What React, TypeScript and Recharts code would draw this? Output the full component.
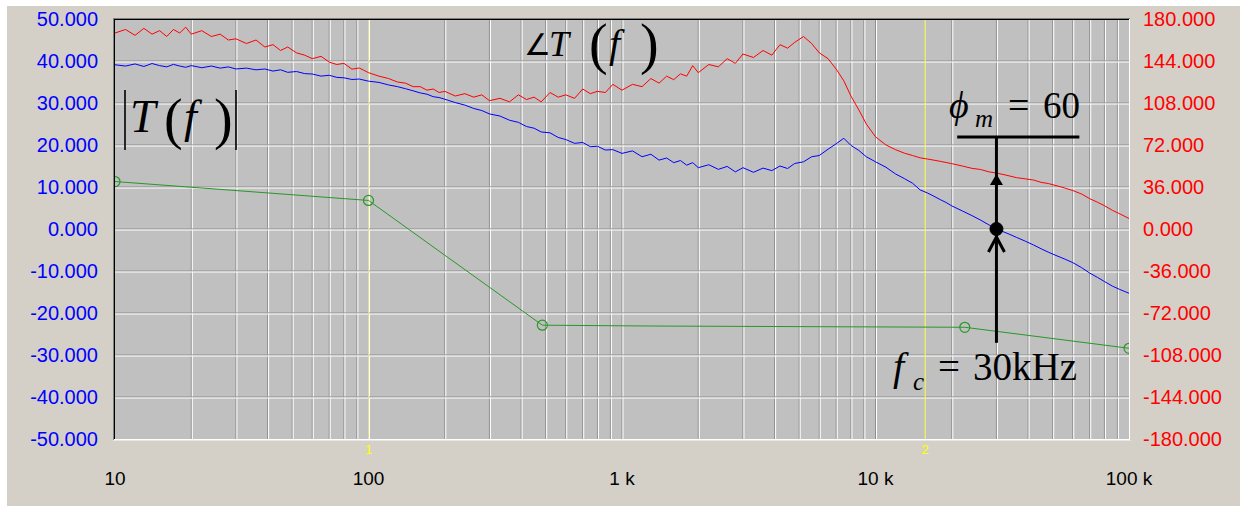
import React from "react";
import { LineChart, Line, XAxis, YAxis, CartesianGrid, ReferenceLine, ReferenceDot } from "recharts";

// measured loop gain, sampled from the analyser trace
const freqHz = [
  10, 11, 12, 13, 14, 15, 16, 17, 18, 19, 20, 22, 24, 26, 28, 30, 33, 36, 39, 42, 45, 48, 52, 56, 60, 65, 70, 75, 80, 86, 92,
  100, 110, 120, 130, 140, 150, 160, 170, 180, 190, 200, 220, 240, 260, 280, 300, 330, 360, 390, 420, 450, 480, 520, 560, 600, 650, 700, 750, 800, 860, 920,
  1000, 1100, 1200, 1300, 1400, 1500, 1600, 1700, 1800, 1900, 2000, 2200, 2400, 2600, 2800, 3000, 3300, 3600, 3900, 4200, 4500, 4800, 5200, 5600, 6000, 6500, 7000, 7500, 8000, 8600, 9200,
  10000, 11000, 12000, 13000, 14000, 15000, 16000, 17000, 18000, 19000, 20000, 22000, 24000, 26000, 28000, 30000, 33000, 36000, 39000, 42000, 45000, 48000, 52000, 56000, 60000, 65000, 70000, 75000, 80000, 86000, 92000,
  100000,
];

const magDb = [
  39.1, 38.8, 39.3, 38.7, 39.4, 38.9, 38.6, 39.2, 38.8, 38.5, 38.9, 38.4, 38.8, 38.3, 38.6, 38.1, 38.3, 37.9, 38.1, 37.6, 37.9, 37.3, 37.5, 37.0, 36.9, 36.4, 36.6, 36.1, 36.0, 35.6, 35.7,
  35.2, 34.9, 34.3, 33.9, 33.4, 32.9, 32.4, 32.1, 31.5, 31.3, 30.9, 30.1, 29.5, 28.7, 28.2, 27.4, 26.9, 25.9, 25.4, 24.4, 24.0, 23.1, 22.9, 21.8, 21.3, 20.4, 20.6, 19.6, 19.7, 18.8, 18.9,
  18.0, 18.6, 17.2, 17.8, 16.4, 16.9, 15.8, 16.3, 15.2, 15.8, 14.6, 15.3, 14.2, 14.9, 13.6, 14.6, 13.5, 14.5, 13.9, 15.0, 14.4, 15.6, 16.0, 17.2, 17.5, 19.0, 20.3, 21.6, 19.9, 18.7, 17.2,
  16.0, 14.7, 13.1, 12.0, 10.9, 9.3, 8.6, 7.8, 7.0, 6.3, 5.5, 4.3, 3.2, 2.1, 1.0, 0.0, -1.0, -2.0, -2.9, -3.8, -4.7, -5.5, -6.4, -7.2, -8.0, -9.2, -10.5, -11.5, -12.5, -13.6, -14.4,
  -15.3,
];

const phaseDeg = [
  168, 171, 166, 172, 167, 170, 165, 171, 168, 173, 167, 170, 165, 167, 162, 163, 159, 162, 156, 158, 153, 156, 151, 149, 146, 148, 143, 141, 142, 137, 138,
  134, 131, 129, 126, 125, 122, 122, 119, 120, 117, 118, 114, 116, 113, 115, 110, 112, 109, 115, 111, 113, 109, 117, 113, 115, 112, 120, 116, 118, 117, 124,
  119, 124, 122, 129, 125, 131, 128, 133, 131, 140, 134, 141, 139, 146, 142, 150, 147, 153, 149, 158, 155, 160, 165, 159, 151, 146, 137, 127, 114, 102, 90,
  79, 72, 68, 65, 63, 61, 60, 59, 58, 57, 56, 54, 52, 51, 49, 48, 46, 44, 43, 42, 40, 39, 37, 35, 33, 30, 26, 23, 20, 16, 13,
  9,
];

// straight-line asymptote (green)
const asymFreq = [10, 100, 485, 1300, 22500, 100000];
const asymDb = [11.3, 6.8, -22.9, -23.1, -23.4, -28.4];
const asymMarked = [true, true, true, false, true, true];

const xTicks = [10, 100, 1000, 10000, 100000];
const xTickLabels = ["10", "100", "1 k", "10 k", "100 k"];
const magTicks = [-50, -40, -30, -20, -10, 0, 10, 20, 30, 40, 50];
const phaseTicks = [-180, -144, -108, -72, -36, 0, 36, 72, 108, 144, 180];
const cursorFreq = [100, 15700];
const cursorLabels = ["1", "2"];
const cursorColors = ["#dede90", "#ffff40"];
const crossFreq = 30000;

const data = freqHz.map((f, i) => ({ f, mag: magDb[i], phase: phaseDeg[i] }));
const asymData = asymFreq.map((f, i) => ({ f, v: asymDb[i], marked: asymMarked[i] }));

const gridFreqs: number[] = [];
[10, 100, 1000, 10000].forEach((d) => {
  for (let k = 1; k <= 9; k++) if (d * k > 10) gridFreqs.push(d * k);
});
const gridMags = magTicks.filter((v) => v > -50 && v < 50);

const GridPair = (p: any) => {
  const { x1, y1, x2, y2 } = p;
  const vert = Math.abs(x1 - x2) < 0.01;
  return (
    <g>
      <line x1={x1} y1={y1} x2={x2} y2={y2} stroke="#8e8e8e" strokeWidth={1} />
      <line
        x1={vert ? x1 + 1 : x1}
        y1={vert ? y1 : y1 + 1}
        x2={vert ? x2 + 1 : x2}
        y2={vert ? y2 : y2 + 1}
        stroke="#ffffff"
        strokeWidth={1}
      />
    </g>
  );
};

const asymDot = (p: any) => {
  const { cx, cy, payload, index } = p;
  if (!payload.marked) return <g key={"d" + index} />;
  return <circle key={"d" + index} cx={cx} cy={cy} r={5} fill="none" stroke="#2a962a" strokeWidth={1.2} />;
};

const UpTriangle = (p: any) => (
  <path d={`M${p.cx},${p.cy} L${p.cx - 6.5},${p.cy + 11} L${p.cx + 6.5},${p.cy + 11} Z`} fill="#000" />
);
const Chevron = (p: any) => (
  <path
    d={`M${p.cx - 8},${p.cy + 15} L${p.cx},${p.cy} L${p.cx + 8},${p.cy + 15}`}
    fill="none"
    stroke="#000"
    strokeWidth={3}
  />
);

const serif = "'Liberation Serif', 'Times New Roman', serif";

export default function App() {
  return (
    <div style={{ position: "absolute", left: 0, top: 0, width: 1243, height: 506, background: "#fff" }}>
      <div style={{ position: "absolute", left: 7, top: 6, width: 1233, height: 500, background: "#d4d0c8" }}>
        <LineChart
          width={1233}
          height={500}
          data={data}
          margin={{ top: 13, right: 11, bottom: 27, left: 8 }}
          style={{ fontFamily: "'Liberation Sans', Arial, sans-serif" }}
        >
          <CartesianGrid fill="#c0c0c0" horizontal={false} vertical={false} yAxisId="mag" />
          <XAxis
            dataKey="f"
            type="number"
            scale="log"
            domain={[10, 100000]}
            ticks={xTicks}
            tickFormatter={(v: number) => xTickLabels[xTicks.indexOf(v)] ?? ""}
            axisLine={false}
            tickLine={false}
            tickSize={31}
            tickMargin={2}
            height={40}
            allowDataOverflow
            interval={0}
            tick={{ fill: "#000", fontSize: 19 }}
          />
          <YAxis
            yAxisId="mag"
            orientation="left"
            domain={[-50, 50]}
            ticks={magTicks}
            tickFormatter={(v: number) => v.toFixed(3)}
            axisLine={false}
            tickLine={false}
            tickSize={15}
            tickMargin={2}
            width={100}
            interval={0}
            allowDataOverflow
            tick={{ fill: "#0000ff", fontSize: 20 }}
          />
          <YAxis
            yAxisId="ph"
            orientation="right"
            domain={[-180, 180]}
            ticks={phaseTicks}
            tickFormatter={(v: number) => v.toFixed(3)}
            axisLine={false}
            tickLine={false}
            tickSize={12}
            tickMargin={2}
            width={100}
            interval={0}
            allowDataOverflow
            tick={{ fill: "#ff0000", fontSize: 20 }}
          />

          {gridFreqs.map((f) => (
            <ReferenceLine key={"gv" + f} x={f} yAxisId="mag" shape={GridPair} />
          ))}
          {gridMags.map((v) => (
            <ReferenceLine key={"gh" + v} y={v} yAxisId="mag" shape={GridPair} />
          ))}
          {cursorFreq.map((f, i) => (
            <ReferenceLine
              key={"c" + f}
              x={f}
              yAxisId="mag"
              stroke={cursorColors[i]}
              strokeWidth={1}
              label={{ value: cursorLabels[i], position: "bottom", fill: "#ffff00", fontSize: 13, offset: 6 }}
            />
          ))}

          <Line
            yAxisId="ph"
            dataKey="phase"
            type="linear"
            stroke="#ff0000"
            strokeWidth={1}
            dot={false}
            isAnimationActive={false}
          />
          <Line
            yAxisId="mag"
            dataKey="mag"
            type="linear"
            stroke="#0000ff"
            strokeWidth={1}
            dot={false}
            isAnimationActive={false}
          />
          <Line
            yAxisId="mag"
            data={asymData}
            dataKey="v"
            type="linear"
            stroke="#2a962a"
            strokeWidth={1}
            dot={asymDot}
            isAnimationActive={false}
          />

          <ReferenceLine
            yAxisId="mag"
            segment={[
              { x: 21000, y: 21.9 },
              { x: 63700, y: 21.9 },
            ]}
            stroke="#000"
            strokeWidth={3}
          />
          <ReferenceLine
            yAxisId="mag"
            segment={[
              { x: crossFreq, y: 21.9 },
              { x: crossFreq, y: -27.1 },
            ]}
            stroke="#000"
            strokeWidth={3}
          />
          <ReferenceDot yAxisId="mag" x={crossFreq} y={13.1} shape={UpTriangle} />
          <ReferenceDot yAxisId="mag" x={crossFreq} y={-1.9} shape={Chevron} />
          <ReferenceDot yAxisId="mag" x={crossFreq} y={0} r={6.5} fill="#000" stroke="#000" />
        </LineChart>
      </div>

      <svg
        width={1243}
        height={506}
        style={{ position: "absolute", left: 0, top: 0, pointerEvents: "none" }}
      >
        {/* sunken frame */}
        <line x1={113} y1={18.5} x2={1130} y2={18.5} stroke="#808080" />
        <line x1={114} y1={19.5} x2={1129} y2={19.5} stroke="#000" />
        <line x1={113.5} y1={18} x2={113.5} y2={440} stroke="#808080" />
        <line x1={114.5} y1={19} x2={114.5} y2={439} stroke="#000" />
        <line x1={114} y1={439.5} x2={1130} y2={439.5} stroke="#ffffff" />
        <line x1={113} y1={440.5} x2={1131} y2={440.5} stroke="#e6e6e6" />
        <line x1={1129.5} y1={19} x2={1129.5} y2={440} stroke="#ffffff" />

        {/* |T(f)| */}
        <line x1={125} y1={90} x2={125} y2={150} stroke="#000" strokeWidth={1.6} />
        <line x1={236} y1={90} x2={236} y2={150} stroke="#000" strokeWidth={1.6} />
        <g fontFamily={serif} fill="#000">
          <text x={130} y={132} fontSize={46} fontStyle="italic">T</text>
          <text x={164} y={138} fontSize={56}>(</text>
          <text x={184} y={132} fontSize={46} fontStyle="italic">f</text>
          <text x={214} y={138} fontSize={56}>)</text>

          {/* ∠T(f) */}
          <text x={524} y={55} fontSize={30}>∠</text>
          <text x={549} y={56} fontSize={36} fontStyle="italic">T</text>
          <text x={589} y={63} fontSize={56}>(</text>
          <text x={609} y={57} fontSize={40} fontStyle="italic">f</text>
          <text x={640} y={63} fontSize={56}>)</text>

          {/* ϕm = 60 */}
          <text x={949} y={118} fontSize={38} fontStyle="italic">ϕ</text>
          <text x={975} y={127} fontSize={25} fontStyle="italic">m</text>
          <text x={1008} y={118} fontSize={38}>=</text>
          <text x={1043} y={118} fontSize={37}>60</text>

          {/* fc = 30kHz */}
          <text x={893} y={380} fontSize={40} fontStyle="italic">f</text>
          <text x={913} y={390} fontSize={25} fontStyle="italic">c</text>
          <text x={938} y={380} fontSize={39}>=</text>
          <text x={973} y={380} fontSize={39}>30kHz</text>
        </g>
      </svg>
    </div>
  );
}
